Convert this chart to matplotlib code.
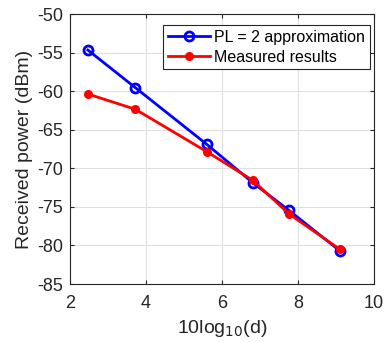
import matplotlib
matplotlib.use("Agg")
from matplotlib import pyplot as plt

plt.rcParams["font.family"] = ["Liberation Sans", "DejaVu Sans"]
plt.rcParams["axes.unicode_minus"] = False

x = [2.47, 3.72, 5.6, 6.81, 7.76, 9.1]
pl2 = [-54.67, -59.55, -66.9, -71.87, -75.45, -80.7]
measured = [-60.37, -62.35, -67.85, -71.56, -75.9, -80.5]

xticks = [2, 4, 6, 8, 10]
yticks = [-85, -80, -75, -70, -65, -60, -55, -50]

fig = plt.figure(figsize=(3.86, 3.42), dpi=100)
ax = fig.add_axes([70 / 386, 1 - 284 / 342, 304 / 386, 270 / 342])

ax.plot(x, pl2, color="b", lw=2, marker="o", ms=6.5, mfc="none", mew=2,
        label="PL = 2 approximation")
ax.plot(x, measured, color="r", lw=2, marker="o", ms=5.5, mfc="r", mec="r",
        label="Measured results")

ax.set_xlim(2, 10)
ax.set_ylim(-85, -50)
ax.set_xticks(xticks)
ax.set_yticks(yticks)
ax.grid(True, color="#e0e0e0", lw=0.8)
ax.set_axisbelow(True)
for s in ax.spines.values():
    s.set_color("#262626")
    s.set_linewidth(0.8)
ax.tick_params(direction="in", top=True, right=True, labelsize=13,
               colors="#262626", length=3, pad=5)
ax.tick_params(axis="x", pad=8)
ax.set_xlabel("10log$_{10}$(d)", fontsize=14, color="#262626", labelpad=4)
ax.set_ylabel("Received power (dBm)", fontsize=14, color="#262626", labelpad=3)

leg = ax.legend(loc="upper right", bbox_to_anchor=(0.987, 0.959), fontsize=11.5,
                fancybox=False, framealpha=1, edgecolor="#262626",
                borderpad=0.3, handlelength=2.6, handletextpad=0.3,
                labelspacing=0.3, borderaxespad=0)
leg.get_frame().set_linewidth(0.8)

fig.savefig("out.png", dpi=100)
